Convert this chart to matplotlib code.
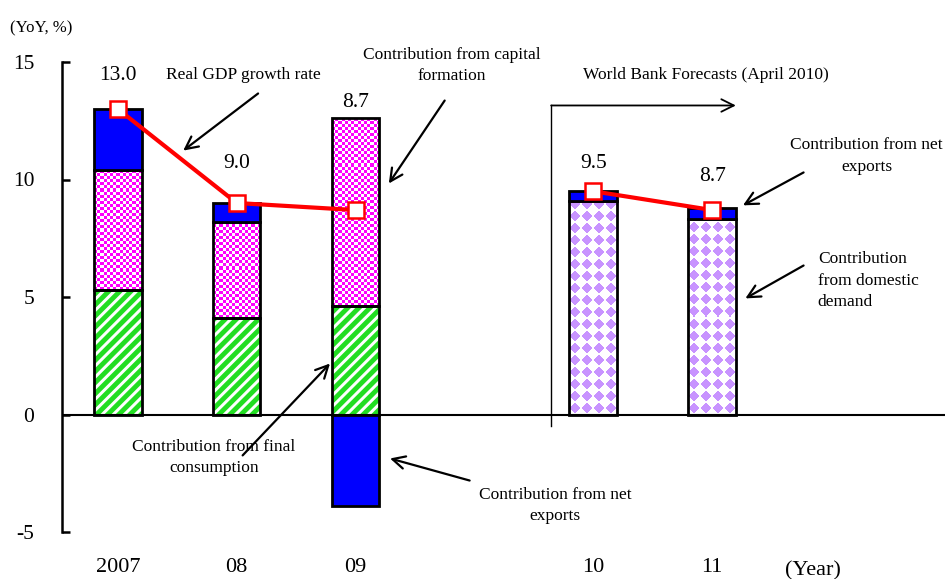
import numpy as np
import matplotlib
matplotlib.use("Agg")
import matplotlib.pyplot as plt

plt.rcParams['font.family'] = ['Liberation Serif', 'DejaVu Serif']
plt.rcParams['axes.unicode_minus'] = False

# ---- data ----
years = ["2007", "08", "09", "10", "11"]
xpos = [0, 1, 2, 4, 5]
final_consumption = [5.3, 4.1, 4.6]          # 2007-09
capital_formation = [5.1, 4.1, 8.0]          # 2007-09
net_exports_actual = [2.6, 0.8, -3.9]        # 2007-09
domestic_demand = [9.1, 8.3]                 # 2010-11 forecasts
net_exports_forecast = [0.4, 0.5]            # 2010-11 forecasts
gdp_growth = [13.0, 9.0, 8.7, 9.5, 8.7]

W, H = 949, 579
fig = plt.figure(figsize=(W / 100, H / 100), dpi=100)
ax = fig.add_axes([62 / W, 47 / H, (945 - 62) / W, (532 - 62) / H])
XLIM = (-0.47, 6.96)
YLIM = (-5, 15)
ax.set_xlim(*XLIM)
ax.set_ylim(*YLIM)

bw = 0.4
px_x = (945 - 62) / (XLIM[1] - XLIM[0])   # pixels per x unit
px_y = (532 - 62) / (YLIM[1] - YLIM[0])   # pixels per y unit

GREEN = "#22dd22"
MAGENTA = "#ff00ff"
BLUE = "#0000ff"
LAVENDER = "#c894ff"


def checker_img(w_px, h_px, color, cell=3):
    rgb = np.array(matplotlib.colors.to_rgb(color))
    nx, ny = max(1, int(w_px / cell)), max(1, int(h_px / cell))
    jj, ii = np.meshgrid(np.arange(nx), np.arange(ny))
    mask = (ii + jj) % 2 == 0
    img = np.ones((ny, nx, 3))
    img[mask] = rgb
    return img


def diamond_img(w_px, h_px, color, period=12, r=5.8):
    rgb = np.array(matplotlib.colors.to_rgb(color))
    nx, ny = int(round(w_px)), int(round(h_px))
    jj, ii = np.meshgrid(np.arange(nx), np.arange(ny))
    dx = (jj % period) - period / 2 + 0.5
    dy = (ii % period) - period / 2 + 0.5
    mask = np.abs(dx) + np.abs(dy) < r
    img = np.ones((ny, nx, 3))
    img[mask] = rgb
    return img


def pattern_bar(x, bottom, height, kind, color):
    x0 = x - bw / 2
    y0, y1 = sorted([bottom, bottom + height])
    w_px = bw * px_x
    h_px = (y1 - y0) * px_y
    if kind == "checker":
        img = checker_img(w_px, h_px, color)
    else:
        img = diamond_img(w_px, h_px, color)
    ax.imshow(img, extent=[x0, x0 + bw, y0, y1], origin="lower",
              interpolation="nearest", aspect="auto", zorder=2)


def outline(x, bottom, height):
    ax.bar(x, height, bw, bottom=bottom, fill=False, edgecolor="black",
           linewidth=2, zorder=4)


plt.rcParams['hatch.linewidth'] = 3.5
actual_x = xpos[:3]
for i, x in enumerate(actual_x):
    fc, cf, ne = final_consumption[i], capital_formation[i], net_exports_actual[i]
    # final consumption: green diagonal stripes
    ax.bar(x, fc, bw, color="white", edgecolor=GREEN, hatch="///",
           linewidth=0, zorder=2)
    outline(x, 0, fc)
    # capital formation: magenta checker
    pattern_bar(x, fc, cf, "checker", MAGENTA)
    outline(x, fc, cf)
    # net exports: solid blue, stacked on top when positive, below zero otherwise
    bottom = fc + cf if ne >= 0 else 0
    ax.bar(x, ne, bw, bottom=bottom, color=BLUE, edgecolor="black",
           linewidth=2, zorder=4)

forecast_x = xpos[3:]
for i, x in enumerate(forecast_x):
    dd, ne = domestic_demand[i], net_exports_forecast[i]
    pattern_bar(x, 0, dd, "diamond", LAVENDER)
    outline(x, 0, dd)
    ax.bar(x, ne, bw, bottom=dd, color=BLUE, edgecolor="black",
           linewidth=2, zorder=4)

ax.set_xlim(*XLIM)
ax.set_ylim(*YLIM)

# zero line
ax.axhline(0, color="black", linewidth=1.5, zorder=3)

# GDP growth line with square markers
line_kw = dict(color="red", linewidth=3, marker="s", markersize=11,
               markerfacecolor="white", markeredgecolor="red",
               markeredgewidth=1.8, zorder=6)
ax.plot(xpos[:3], gdp_growth[:3], **line_kw)
ax.plot(xpos[3:], gdp_growth[3:], **line_kw)

# value labels
label_offsets = [33, 40, 108, 28, 34]
for x, v, off in zip(xpos, gdp_growth, label_offsets):
    ax.annotate(f"{v:.1f}", (x, v), xytext=(0, off * 0.72),
                textcoords="offset points", ha="center", va="center",
                fontsize=15.5)

# axes styling
for s in ["top", "right", "bottom"]:
    ax.spines[s].set_visible(False)
ax.spines["left"].set_linewidth(1.8)
ax.set_yticks([-5, 0, 5, 10, 15])
ax.tick_params(axis="y", direction="in", length=6, width=1.8, pad=20,
               labelsize=15.5)
ax.set_xticks(xpos)
ax.set_xticklabels(years)
ax.tick_params(axis="x", length=0, pad=19, labelsize=16)

fig.text(10 / W, 1 - 28 / H, "(YoY, %)", fontsize=12, ha="left", va="center")
fig.text(813 / W, 1 - 571 / H, "(Year)", fontsize=16, ha="center",
         va="center")

# forecast bracket
ax.plot([3.646, 3.646], [-0.47, 13.15], color="black", linewidth=1,
        clip_on=False, zorder=3)
ax.annotate("", xy=(5.2, 13.15), xytext=(3.646, 13.15),
            arrowprops=dict(arrowstyle="->,head_length=0.9,head_width=0.45",
                            color="black", lw=1.3, shrinkA=0, shrinkB=0))
ax.text(4.95, 14.43, "World Bank Forecasts (April 2010)", fontsize=12.5,
        ha="center", va="center")

arrow_kw = dict(arrowstyle="->,head_length=0.9,head_width=0.45",
                color="black", lw=1.6, shrinkA=0, shrinkB=0)


def callout(text, tail, head, text_xy, ha="center", ma="center"):
    ax.annotate("", xy=head, xytext=tail, arrowprops=arrow_kw, zorder=7)
    ax.text(text_xy[0], text_xy[1], text, fontsize=12.5, ha=ha, va="center",
            multialignment=ma, linespacing=1.45)


callout("Real GDP growth rate", (1.18, 13.66), (0.55, 11.23), (1.06, 14.43))
callout("Contribution from capital\nformation", (2.75, 13.36), (2.28, 9.83),
        (2.81, 14.85))
callout("Contribution from net\nexports", (5.77, 10.3), (5.26, 8.9),
        (6.3, 11.0))
callout("Contribution\nfrom domestic\ndemand", (5.77, 6.34), (5.28, 4.94),
        (5.89, 5.7), ha="left", ma="left")
callout("Contribution from final\nconsumption", (1.05, -1.74), (1.785, 2.17),
        (0.81, -1.83))
callout("Contribution from net\nexports", (2.96, -2.81), (2.29, -1.87),
        (3.68, -3.87))

fig.savefig("out.png", dpi=100)
